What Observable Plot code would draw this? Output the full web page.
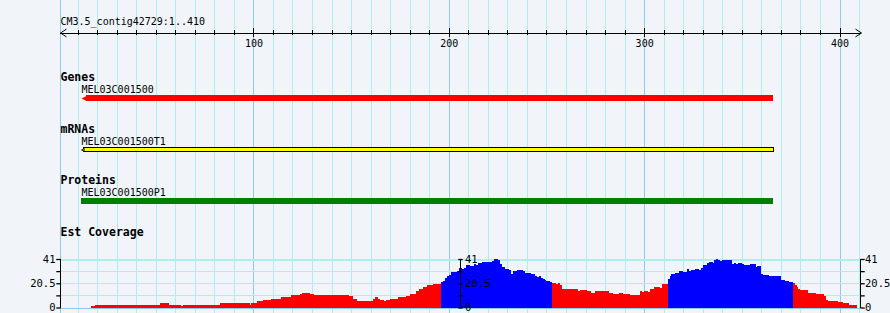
<!DOCTYPE html>
<html><head><meta charset="utf-8">
<script src="https://cdn.jsdelivr.net/npm/d3@7"></script>
<script src="https://cdn.jsdelivr.net/npm/@observablehq/plot@0.6"></script>
<style>
html,body{margin:0;padding:0;background:#f1f5fa;}
#chart{width:890px;}
#chart svg{display:block;}
</style></head><body><div id="chart"></div>
<script>
// ---- data ----
const refName = "CM3.5_contig42729:1..410";
const seqStart = 1, seqEnd = 410;
const rulerLabels = [100, 200, 300, 400];
const gridStep = 10;
const trackTitles = ["Genes", "mRNAs", "Proteins", "Est Coverage"];
const featureNames = ["MEL03C001500", "MEL03C001500T1", "MEL03C001500P1"];
const featureStart = [12, 12, 12];
const featureEnd = [366, 366, 366];
const featureColors = ["#ff0000", "#ffff00", "#008000"];

const covStart = [17,19,52,57,63,64,83,98,99,102,105,109,114,119,124,125,129,131,149,151,153,161,162,164,165,167,168,170,174,178,180,183,185,187,189,192,
  196,197,198,199,200,201,204,205,207,208,209,211,213,214,215,217,218,222,223,224,225,226,227,229,231,232,233,235,238,239,242,244,245,246,247,248,249,250,252,
  253,255,256,257,258,266,267,271,273,275,282,284,287,289,293,298,299,300,302,303,305,308,309,
  312,313,314,316,318,320,322,323,324,326,328,329,330,332,333,335,336,337,338,339,340,345,346,347,348,350,351,354,357,358,360,361,364,370,372,374,
  376,377,378,379,380,384,388,392,393,394,399,402,405,406];
const covValue = [1.4,2.3,4.0,2.3,1.4,2.3,4.0,2.3,4.0,5.4,6.5,7.4,9.0,10.7,11.6,12.4,11.6,10.7,9.9,7.4,5.7,7.4,9.0,7.4,6.5,5.7,6.5,7.4,9.0,9.9,11.6,14.1,15.8,17.5,19.2,20.1,
  21.8,22.6,25.2,26.3,27.2,30.0,30.8,33.7,32.2,33.7,35.6,34.8,36.5,35.6,37.3,38.2,38.5,39.3,40.7,41,39.9,37.1,34.0,32.5,32.0,28.3,31.1,32.0,31.1,29.4,28.0,26.9,25.5,26.3,24.6,23.8,23.0,22.3,21.5,
  20.6,19.8,20.6,19.2,15.8,14.1,15.0,14.1,12.4,14.1,12.4,11.6,12.4,11.6,10.7,14.1,13.3,14.1,13.3,15.8,17.5,16.7,20.1,
  24.3,26.3,28.0,29.4,30.5,30.0,32.8,31.1,32.0,32.8,32.0,33.7,35.6,37.3,38.5,37.6,40.4,41,40.2,39.0,40.4,37.0,37.6,37.0,37.6,36.5,36.2,36.8,34.0,35.1,28.3,27.4,26.6,23.5,22.6,21.8,
  20.6,19.2,17.5,15.8,14.7,12.4,11.3,9.9,6.2,5.4,4.5,3.7,2.5,1.7];
const covEnd = 409;
const highStart = [196, 312];
const highEnd = [253, 376];
const covMax = 41;
const covTicks = [0, 10.25, 20.5, 30.75, 41];
const covTickLabels = ["0", "20.5", "41"];
const covLabelValues = [0, 20.5, 41];

// ---- style ----
const BG = "#f1f5fa", MINOR = "#aeeeee", MAJOR = "#8fcbe6";
const FONT = "DejaVu Sans Mono";
const W = 890;
const xScale = {domain: [seqStart, seqEnd + 1], range: [60, 861]};
const style = {fontFamily: FONT, fontSize: "10px", background: BG, color: "black"};

const minorGrid = d3.range(gridStep, seqEnd + 1, gridStep).filter(v => v % 100 !== 0);
const majorGrid = [seqStart, ...rulerLabels];
const minorTicks = d3.range(gridStep, rulerLabels[rulerLabels.length - 1] + 1, gridStep).filter(v => v % 100 !== 0);

const chevron = {draw(ctx, size) { const r = Math.sqrt(size / Math.PI); ctx.moveTo(r, -r * 0.65); ctx.lineTo(0, 0); ctx.lineTo(r, r * 0.65); }};
const leftTri = {draw(ctx, size) { const r = Math.sqrt(size / Math.PI); ctx.moveTo(0, 0); ctx.lineTo(r, -r * 0.5); ctx.lineTo(r, r * 0.5); ctx.closePath(); }};
const hline = {draw(ctx, size) { const r = Math.sqrt(size / Math.PI); ctx.moveTo(-r, 0); ctx.lineTo(r, 0); }};

function grid() {
  return [
    Plot.ruleX(minorGrid, {stroke: MINOR, strokeWidth: 1, shapeRendering: "crispEdges"}),
    Plot.ruleX(majorGrid, {stroke: MAJOR, strokeWidth: 1, shapeRendering: "crispEdges"})
  ];
}
function base(height, y, marks) {
  return Plot.plot({
    width: W, height, marginTop: 0, marginBottom: 0, marginLeft: 0, marginRight: 0,
    x: {...xScale, axis: null}, y: {...y, axis: null}, style, marks
  });
}
const chart = document.getElementById("chart");

// ---- ruler ----
chart.append(base(52, {domain: [-1, 1], range: [37.5, 27.5]}, [
  ...grid(),
  Plot.text([refName], {x: seqStart, frameAnchor: "top", dy: 24, lineAnchor: "bottom", textAnchor: "start"}),
  Plot.ruleY([0], {x1: seqStart, x2: seqEnd + 1, stroke: "black", shapeRendering: "crispEdges"}),
  Plot.ruleX(minorTicks, {y1: -0.5, y2: 0.5, stroke: "black", shapeRendering: "crispEdges"}),
  Plot.ruleX(rulerLabels, {y1: -0.85, y2: 0.85, stroke: "black", shapeRendering: "crispEdges"}),
  Plot.dot([{x: seqStart, a: 0}, {x: seqEnd + 1, a: 180}], {x: "x", y: 0, rotate: "a", symbol: chevron, r: 6, stroke: "black", fill: "none", strokeWidth: 1}),
  Plot.text(rulerLabels, {x: d => d, y: 0, text: d => String(d), dy: 14, lineAnchor: "bottom"})
]));

// ---- feature tracks ----
const trackHeights = [52, 51, 52];
featureNames.forEach((name, i) => {
  const f = {name, start: featureStart[i], end: featureEnd[i]};
  const marks = [
    ...grid(),
    Plot.text([trackTitles[i]], {x: seqStart, frameAnchor: "top", dy: 28, lineAnchor: "bottom", textAnchor: "start", fontWeight: "bold", fontSize: 11.5}),
    Plot.text([f], {x: "start", text: "name", frameAnchor: "top", dy: 40, dx: -0.5, lineAnchor: "bottom", textAnchor: "start"})
  ];
  let y;
  if (i === 0) {
    y = {domain: [0, 1], range: [49, 43]};
    marks.push(Plot.rect([f], {x1: "start", x2: "end", y1: 0, y2: 1, insetLeft: 4.5, fill: featureColors[i], shapeRendering: "crispEdges"}));
    marks.push(Plot.dot([f], {x: "start", y: 0.5, dx: -0.5, symbol: leftTri, r: 5, fill: featureColors[i], stroke: "none"}));
  } else if (i === 1) {
    y = {domain: [0, 1], range: [47.5, 43.5]};
    marks.push(Plot.rect([f], {x1: "start", x2: "end", y1: 0, y2: 1, insetLeft: 2, fill: featureColors[i], stroke: "black", strokeWidth: 1, shapeRendering: "crispEdges"}));
    marks.push(Plot.dot([f], {x: "start", y: 0.5, dx: -0.5, symbol: leftTri, r: 2.8, fill: featureColors[i], stroke: "black", strokeWidth: 0.8}));
  } else {
    y = {domain: [0, 1], range: [49, 43]};
    marks.push(Plot.rect([f], {x1: "start", x2: "end", y1: 0, y2: 1, insetLeft: -0.5, fill: featureColors[i], shapeRendering: "crispEdges"}));
  }
  chart.append(base(trackHeights[i], y, marks));
});

// ---- coverage ----
const cov = covStart.map((s, i) => ({
  start: s, end: i + 1 < covStart.length ? covStart[i + 1] : covEnd, value: covValue[i],
  high: highStart.some((h, k) => s >= h && s < highEnd[k])
}));
const axisX = [seqStart, (seqStart + seqEnd + 0.5) / 2, seqEnd + 0.5];
const labels = covLabelValues.map((v, i) => ({v, t: covTickLabels[i]}));
const tickMarks = [];
axisX.forEach((ax, k) => covTicks.forEach(v => tickMarks.push({ax, v, k})));
const labelMarks = [];
axisX.forEach((ax, k) => labels.forEach(l => labelMarks.push({ax, k, ...l})));

chart.append(base(106, {domain: [0, covMax], range: [100.5, 52]}, [
  ...grid(),
  Plot.ruleY(covTicks.filter(v => v > 0 && v < covMax), {x1: seqStart, x2: seqEnd + 0.5, stroke: MINOR, shapeRendering: "crispEdges"}),
  Plot.ruleY([covMax], {x1: seqStart, x2: seqEnd + 0.5, stroke: MINOR, strokeWidth: 2, shapeRendering: "crispEdges"}),
  Plot.ruleY([0], {x1: seqStart, x2: seqEnd + 0.5, stroke: MAJOR, shapeRendering: "crispEdges"}),
  Plot.text([trackTitles[3]], {x: seqStart, frameAnchor: "top", dy: 28, lineAnchor: "bottom", textAnchor: "start", fontWeight: "bold", fontSize: 11.5}),
  Plot.rect(cov, {x1: "start", x2: "end", y1: 0, y2: "value", fill: d => d.high ? "#0000ff" : "#ff0000", shapeRendering: "crispEdges"}),
  Plot.ruleX(axisX, {y1: 0, y2: covMax, stroke: "black", strokeWidth: 1.5, shapeRendering: "crispEdges"}),
  Plot.dot(tickMarks.filter(d => d.k === 0), {x: "ax", y: "v", dx: -2, symbol: hline, r: 2.2, stroke: "black", strokeWidth: 1.3}),
  Plot.dot(tickMarks.filter(d => d.k === 1), {x: "ax", y: "v", symbol: hline, r: 2.2, stroke: "black", strokeWidth: 1.3}),
  Plot.dot(tickMarks.filter(d => d.k === 2), {x: "ax", y: "v", dx: 2, symbol: hline, r: 2.2, stroke: "black", strokeWidth: 1.3}),
  Plot.text(labelMarks.filter(d => d.k === 0), {x: "ax", y: "v", text: "t", dx: -5, textAnchor: "end", lineAnchor: "middle", fontSize: 10.5}),
  Plot.text(labelMarks.filter(d => d.k > 0), {x: "ax", y: "v", text: "t", dx: 4.5, textAnchor: "start", lineAnchor: "middle", fontSize: 10.5})
]));
</script></body></html>
